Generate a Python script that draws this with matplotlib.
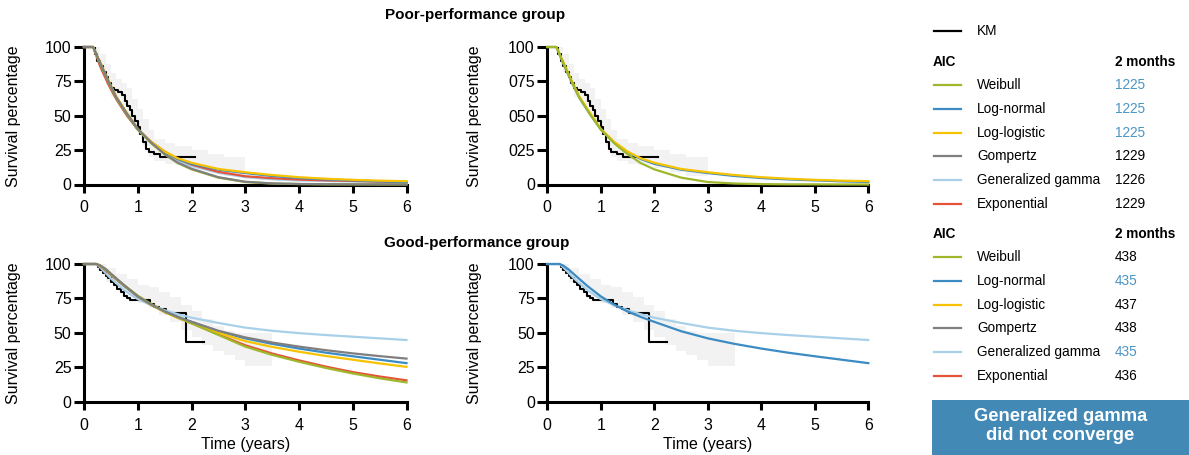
import matplotlib
matplotlib.use('Agg')
import matplotlib.pyplot as plt
from matplotlib.patches import Rectangle

plt.rcParams['font.family'] = ['Liberation Sans', 'DejaVu Sans']

# --- data ---
models = ['Weibull', 'Log-normal', 'Log-logistic', 'Gompertz', 'Generalized gamma', 'Exponential']
aic_poor = [1225, 1225, 1225, 1229, 1226, 1229]
aic_good = [438, 435, 437, 438, 435, 436]

# poor-performance group: fitted survival (%)
t_poor = [0, 0.17, 0.3, 0.45, 0.6, 0.8, 1, 1.25, 1.5, 1.75, 2, 2.5, 3, 3.5, 4, 4.5, 5, 5.5, 6]
poor_weibull = [100, 100, 88, 75, 63, 51, 40, 30, 22, 15.5, 11, 5, 1.8, 0.7, 0.3, 0.1, 0.1, 0, 0]
poor_lognormal = [100, 100, 88, 75, 63, 51, 40, 30.5, 23.5, 18.5, 15, 10.8, 8.3, 6.2, 4.7, 3.7, 3, 2.3, 1.8]
poor_loglogistic = [100, 100, 89, 76, 64, 52, 40.5, 31, 24, 19, 15.8, 11.3, 8.9, 6.9, 5.3, 4.2, 3.4, 2.8, 2.4]
poor_gompertz = [100, 100, 88.5, 75.5, 63.5, 51.5, 40.5, 30.5, 22, 15.8, 11.5, 5.3, 2, 0.8, 0.4, 0.2, 0.1, 0.1, 0.1]
poor_gengamma = [100, 100, 88, 75, 63, 51, 40, 30, 22.5, 17, 13.5, 8.5, 5.3, 3.8, 2.9, 2.5, 2.2, 1.8, 1.5]
poor_exponential = [100, 100, 86, 73, 62, 50, 40, 31, 24, 18.5, 14.5, 9.2, 6, 4.6, 3.6, 3, 2.6, 2.1, 1.7]

km_poor_t = [0, 0.2, 0.25, 0.3, 0.35, 0.4, 0.45, 0.5, 0.56, 0.63, 0.7, 0.76, 0.8, 0.85,
             0.9, 0.95, 1.0, 1.05, 1.1, 1.15, 1.2, 1.3, 1.42, 2.07]
km_poor_s = [100, 95, 90, 86, 82, 78, 74, 70, 69, 67.5, 65, 61, 57, 54,
             50, 46, 42, 37, 31, 26, 24, 22, 20, 20]
ci_poor_t = [0.2, 0.3, 0.4, 0.5, 0.6, 0.7, 0.8, 0.9, 1.0, 1.1, 1.2, 1.3, 1.5, 1.7, 2.0, 2.3, 2.6, 3.0]
ci_poor_hi = [100, 95, 88, 81, 77, 74, 70, 62, 55, 48, 40, 33, 30, 28, 25, 22, 20, 20]
ci_poor_lo = [94, 82, 73, 64, 62, 58, 50, 43, 36, 28, 20, 17, 15, 14, 12, 9, 6, 6]

# good-performance group: fitted survival (%)
t_good = [0, 0.23, 0.3, 0.4, 0.5, 0.75, 1, 1.25, 1.5, 1.75, 2, 2.5, 3, 3.5, 4, 4.5, 5, 5.5, 6]
good_weibull = [100, 100, 98.8, 96, 92.5, 84.5, 77, 71, 65.5, 61, 57, 48.5, 40, 34, 29, 24.5, 20.5, 17, 14]
good_lognormal = [100, 100, 98.8, 96, 92.5, 84, 76.5, 70.5, 65.5, 61.5, 58, 51.2, 46, 42, 38.6, 35.6, 33, 30.5, 28]
good_loglogistic = [100, 100, 99, 96.2, 92.7, 84.3, 76.6, 70.3, 65, 60.8, 57, 50, 44, 39.8, 36.3, 33.2, 30.5, 27.8, 25.3]
good_gompertz = [100, 100, 99, 96.5, 93, 84.5, 76.5, 70.5, 65.5, 61.5, 58, 51.5, 46.7, 43, 40, 37.4, 35.1, 33.1, 31.3]
good_gengamma = [100, 100, 97.5, 93.5, 89.5, 81, 74.5, 70, 66.5, 63.5, 61, 57.2, 53.8, 51.5, 49.8, 48.4, 47.2, 46, 44.8]
good_exponential = [100, 100, 98.5, 95.5, 92, 84, 76.5, 70.5, 65.5, 61, 57, 48.8, 41, 35, 30, 25.5, 21.5, 18.3, 15.5]

km_good_t = [0, 0.26, 0.3, 0.35, 0.4, 0.45, 0.5, 0.56, 0.62, 0.68, 0.74, 0.8, 0.86,
             1.22, 1.3, 1.4, 1.52, 1.9, 2.24]
km_good_s = [100, 97.5, 95.5, 93.5, 91.5, 89.5, 87, 84.5, 82, 79.5, 77, 75, 73.6,
             71, 69, 67, 64.7, 43.5, 43.5]
ci_good_t = [0.25, 0.4, 0.6, 0.8, 1.0, 1.2, 1.4, 1.6, 1.8, 2.0, 2.2, 2.4, 2.6, 2.8, 3.0, 3.5]
ci_good_hi = [100, 97, 93, 89, 85, 83, 80, 76, 70, 66, 60, 55, 51, 50, 50, 50]
ci_good_lo = [95, 87, 81, 75, 72, 68, 63, 58, 52, 47, 41, 37, 34, 30, 26, 26]

colors = ['#9fb82b', '#3c8bc3', '#f7c200', '#7f7f7f', '#a8d0e8', '#e5533a']
draw_order = [4, 5, 1, 2, 0, 3]
hl_color = '#4a94c4'
ci_color = '#f2f2f2'

poor_fits = [poor_weibull, poor_lognormal, poor_loglogistic, poor_gompertz, poor_gengamma, poor_exponential]
good_fits = [good_weibull, good_lognormal, good_loglogistic, good_gompertz, good_gengamma, good_exponential]

fig = plt.figure(figsize=(11.89, 4.55), dpi=100)
W, H = 1189, 455


def make_axes(x0, x1, ytop, ybot):
    return fig.add_axes([x0 / W, 1 - ybot / H, (x1 - x0) / W, (ybot - ytop) / H])


def style_axes(ax, ylab_x, xlabel=False, ytlabels=None):
    ax.set_xlim(0, 6)
    ax.set_ylim(0, 100)
    for s in ['top', 'right']:
        ax.spines[s].set_visible(False)
    for s in ['left', 'bottom']:
        ax.spines[s].set_linewidth(2.2)
        ax.spines[s].set_capstyle('projecting')
    ax.set_xticks(range(7))
    ax.set_yticks([0, 25, 50, 75, 100])
    if ytlabels:
        ax.set_yticklabels(ytlabels)
    ax.tick_params(axis='x', length=5.5, width=2.2, pad=6, labelsize=11.5)
    ax.tick_params(axis='y', length=7.5, width=2.2, pad=1.5, labelsize=11.5)
    # y label placed by hand so it sits out at the figure edge like the reference
    pos = ax.get_position()
    fig.text(ylab_x / W, pos.y0 + pos.height / 2, 'Survival percentage', rotation=90,
             ha='center', va='center', fontsize=11.5)
    if xlabel:
        ax.set_xlabel('Time (years)', fontsize=11.5, labelpad=3)


def draw_panel(ax, t, fits, km_t, km_s, ci_t, ci_hi, ci_lo, show):
    ax.fill_between(ci_t, ci_lo, ci_hi, step='post', color=ci_color, lw=0, zorder=1)
    ax.step(km_t, km_s, where='post', color='black', lw=1.5, zorder=2)
    for i in draw_order:
        if i in show:
            ax.plot(t, fits[i], color=colors[i], lw=1.6, zorder=3, clip_on=False)


best_poor = [i for i, a in enumerate(aic_poor) if a == min(aic_poor)]
best_good = [i for i, a in enumerate(aic_good) if a == min(aic_good)]

ax1 = make_axes(84, 406.5, 47, 184.5)
draw_panel(ax1, t_poor, poor_fits, km_poor_t, km_poor_s, ci_poor_t, ci_poor_hi, ci_poor_lo, range(6))
style_axes(ax1, 14)

ax2 = make_axes(547.3, 868.3, 47, 184.5)
draw_panel(ax2, t_poor, poor_fits, km_poor_t, km_poor_s, ci_poor_t, ci_poor_hi, ci_poor_lo, best_poor)
style_axes(ax2, 474, ytlabels=['0', '025', '050', '075', '100'])

ax3 = make_axes(84, 406.5, 264, 401.7)
draw_panel(ax3, t_good, good_fits, km_good_t, km_good_s, ci_good_t, ci_good_hi, ci_good_lo, range(6))
style_axes(ax3, 14, xlabel=True)

ax4 = make_axes(547.3, 868.3, 264, 401.7)
draw_panel(ax4, t_good, good_fits, km_good_t, km_good_s, ci_good_t, ci_good_hi, ci_good_lo, best_good)
style_axes(ax4, 474, xlabel=True)

fig.text(475.5 / W, 1 - 15 / H, 'Poor-performance group', ha='center', va='center',
         fontsize=11, fontweight='bold')
fig.text(477 / W, 1 - 243 / H, 'Good-performance group', ha='center', va='center',
         fontsize=11, fontweight='bold')

# legend / AIC table, in pixel coordinates
leg = fig.add_axes([0, 0, 1, 1])
leg.set_xlim(0, W)
leg.set_ylim(H, 0)
leg.axis('off')

fs = 9.8
leg.plot([934, 961], [31, 31], color='black', lw=1.6)
leg.text(977, 31, 'KM', va='center', fontsize=fs)


def aic_block(y0, aics, best):
    leg.text(933, y0, 'AIC', va='center', fontsize=fs, fontweight='bold')
    leg.text(1115, y0, '2 months', va='center', fontsize=fs, fontweight='bold')
    for i, name in enumerate(models):
        y = y0 + 23 + i * 23.8
        leg.plot([934, 961], [y, y], color=colors[i], lw=1.6)
        leg.text(977, y, name, va='center', fontsize=fs)
        leg.text(1115, y, str(aics[i]), va='center', fontsize=fs,
                 color=hl_color if i in best else 'black')


aic_block(62, aic_poor, best_poor)
aic_block(234, aic_good, best_good)

leg.add_patch(Rectangle((932, 400), W - 932, 55, color='#4289b6', lw=0))
leg.text((932 + W) / 2, 426, 'Generalized gamma\ndid not converge', ha='center', va='center',
         color='white', fontsize=13.2, fontweight='bold', linespacing=1.2)

fig.savefig('out.png', dpi=100)
